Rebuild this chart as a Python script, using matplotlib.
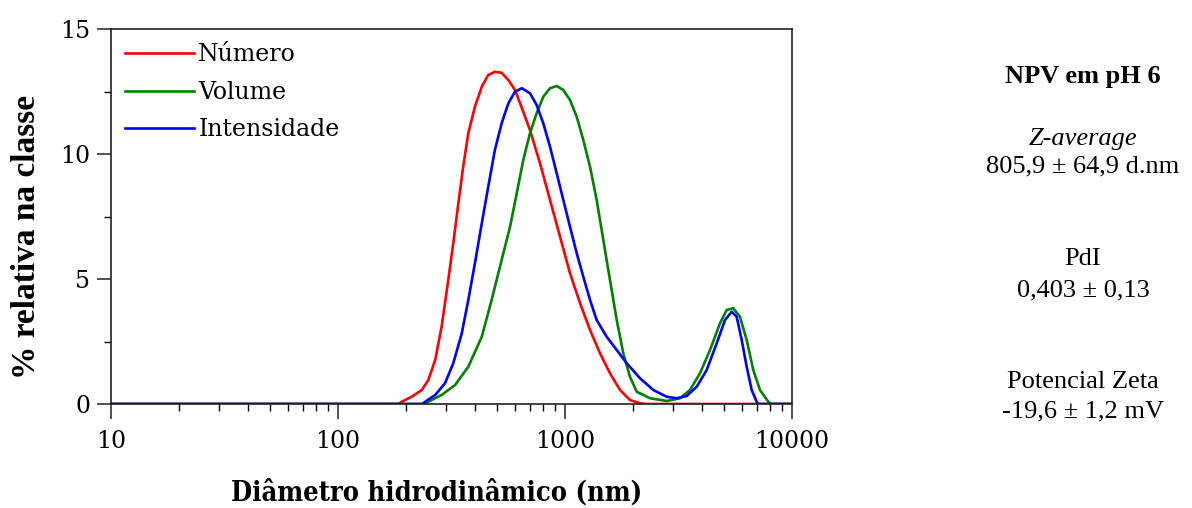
import matplotlib
matplotlib.use("Agg")
import matplotlib.pyplot as plt
from matplotlib.ticker import LogLocator, MultipleLocator, FixedLocator, NullFormatter

# distribuicoes de tamanho (DLS) - diametro em nm, % relativa na classe
num_d = [10, 185, 191, 211, 234, 250, 268, 286, 306, 322, 339, 356, 375, 401, 430,
         459, 491, 526, 563, 602, 634, 701, 776, 859, 951, 1052, 1165, 1289, 1426,
         1578, 1747, 1933, 2140, 2250, 10000]
num_y = [0, 0, 0.09, 0.29, 0.56, 0.96, 1.76, 3.09, 4.96, 6.43, 8.03, 9.49, 10.83,
         11.89, 12.69, 13.16, 13.29, 13.25, 12.96, 12.56, 12.03, 10.96, 9.63, 8.16,
         6.69, 5.23, 4.03, 2.96, 2.03, 1.23, 0.56, 0.16, 0.03, 0, 0]

vol_d = [10, 240, 250, 286, 328, 375, 430, 475, 526, 573, 613, 655, 701, 750, 802,
         859, 919, 983, 1052, 1126, 1204, 1289, 1379, 1475, 1578, 1690, 1806, 1933,
         2070, 2368, 2805, 3211, 3553, 3933, 4353, 4818, 5156, 5513, 5900, 6315,
         6751, 7228, 7864, 8100, 10000]
vol_y = [0, 0, 0.09, 0.36, 0.76, 1.49, 2.69, 4.16, 5.76, 7.1, 8.43, 9.76, 10.83,
         11.63, 12.29, 12.63, 12.72, 12.56, 12.16, 11.49, 10.56, 9.49, 8.16, 6.56,
         4.96, 3.36, 2.03, 1.09, 0.49, 0.23, 0.12, 0.23, 0.56, 1.23, 2.16, 3.23,
         3.76, 3.83, 3.49, 2.56, 1.36, 0.56, 0.09, 0, 0]

int_d = [10, 235, 242, 268, 296, 322, 351, 375, 401, 430, 459, 491, 526, 563, 602,
         645, 701, 750, 802, 859, 919, 983, 1052, 1126, 1204, 1289, 1379, 1526, 1690,
         1870, 2140, 2449, 2805, 3105, 3437, 3803, 4209, 4659, 5068, 5425, 5706,
         6003, 6315, 6643, 6988, 7100, 10000]
int_y = [0, 0, 0.09, 0.36, 0.83, 1.63, 2.83, 4.16, 5.63, 7.23, 8.69, 10.16, 11.23,
         12.03, 12.49, 12.63, 12.43, 11.96, 11.23, 10.29, 9.23, 8.16, 7.09, 6.03,
         5.09, 4.16, 3.36, 2.69, 2.16, 1.63, 1.03, 0.56, 0.29, 0.23, 0.32, 0.69,
         1.36, 2.43, 3.36, 3.69, 3.49, 2.56, 1.49, 0.56, 0.09, 0, 0]

info = [
    ("NPV em pH 6", 77, "bold", "normal"),
    ("Z-average", 139, "normal", "italic"),
    ("805,9 ± 64,9 d.nm", 166, "normal", "normal"),
    ("PdI", 259, "normal", "normal"),
    ("0,403 ± 0,13", 290, "normal", "normal"),
    ("Potencial Zeta", 382, "normal", "normal"),
    ("-19,6 ± 1,2 mV", 411, "normal", "normal"),
]

W, H = 1192, 508
fig = plt.figure(figsize=(W / 100, H / 100), dpi=100)
ax = fig.add_axes([111 / W, 1 - 404 / H, (792 - 111) / W, (404 - 29) / H])

ax.plot(num_d, num_y, color="#ff0000", lw=1.9, label="Número")
ax.plot(vol_d, vol_y, color="#008000", lw=1.9, label="Volume")
ax.plot(int_d, int_y, color="#0000ff", lw=1.9, label="Intensidade")

ax.set_xscale("log")
ax.set_xlim(10, 10000)
ax.set_ylim(0, 15)
ax.xaxis.set_major_locator(FixedLocator([10, 100, 1000, 10000]))
ax.xaxis.set_minor_locator(LogLocator(base=10, subs=range(2, 10)))
ax.xaxis.set_minor_formatter(NullFormatter())
ax.set_xticklabels(["10", "100", "1000", "10000"])
ax.yaxis.set_major_locator(MultipleLocator(5))
ax.yaxis.set_minor_locator(MultipleLocator(2.5))

for s in ax.spines.values():
    s.set_linewidth(1.2)
    s.set_color("#222222")
ax.tick_params(axis="both", which="major", direction="out", labelsize=17,
               width=1.1, color="#222222")
ax.tick_params(axis="x", which="major", length=11, pad=8)
ax.tick_params(axis="x", which="minor", length=5, width=1.0)
ax.tick_params(axis="y", which="major", length=10, pad=5)
ax.tick_params(axis="y", which="minor", length=5, width=1.0)
for lab in ax.get_xticklabels() + ax.get_yticklabels():
    lab.set_family("DejaVu Serif")

ax.set_xlabel("Diâmetro hidrodinâmico (nm)", family="DejaVu Serif", fontsize=19.5,
              fontweight="bold", fontstretch="condensed")
ax.xaxis.label.set_va("center")
ax.xaxis.set_label_coords((437 - 111) / 681, (404 - 493) / 375)
ax.set_ylabel("% relativa na classe", family="Liberation Serif", fontsize=24,
              fontweight="bold")
ax.yaxis.label.set_va("center")
ax.yaxis.set_label_coords((26 - 111) / 681, (404 - 237) / 375)

leg = ax.legend(loc="upper left", bbox_to_anchor=(0.0, 1.0), frameon=False,
                prop={"family": "DejaVu Serif", "size": 17}, handlelength=2.9,
                handletextpad=0.2, labelspacing=0.62, borderaxespad=0.2)

for txt, y, wt, st in info:
    fig.text(1083 / W, 1 - y / H, txt, ha="center", va="center",
             family="Liberation Serif", fontsize=19, fontweight=wt, fontstyle=st)

fig.savefig("out.png", dpi=100)
